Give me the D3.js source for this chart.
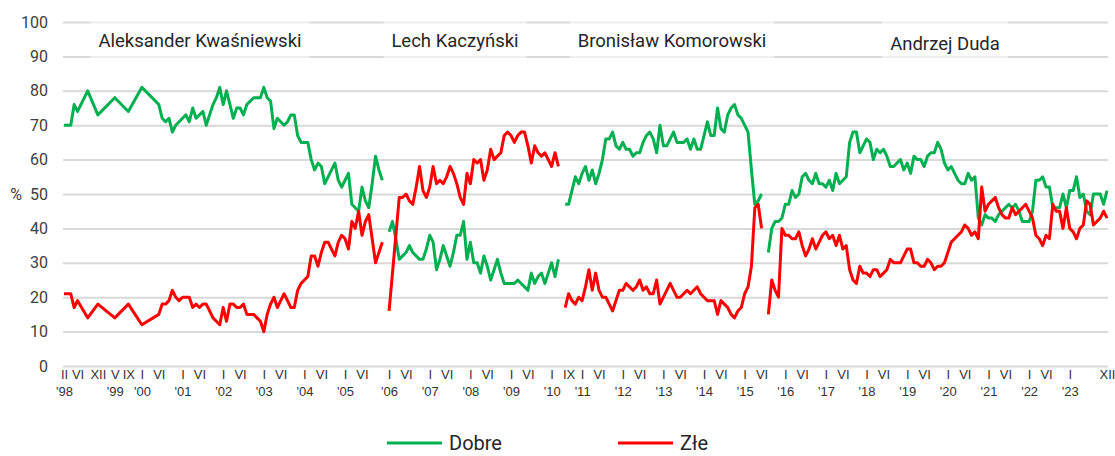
<!DOCTYPE html>
<html lang="pl">
<head>
<meta charset="utf-8">
<script src="https://cdn.jsdelivr.net/npm/d3@7"></script>
<style>
  html, body { margin: 0; padding: 0; background: #fff; }
  svg { display: block; }
</style>
</head>
<body>
<svg id="chart" width="1115" height="456"></svg>
<script>
// Presidents and the survey months covered by each term (first, last).
const presidents = ["Aleksander Kwaśniewski", "Lech Kaczyński", "Bronisław Komorowski", "Andrzej Duda"];
const termMonths = [["1998-02", "2005-12"], ["2006-01", "2010-03"], ["2010-08", "2015-06"], ["2015-08", "2023-12"]];

// Share of answers "dobrze" (good) and "źle" (bad), in %; null = no survey that month.
const kwasniewskiDobre = [
  70, null, 70, 76, 74, null, null, 80, null, null, 73, null, null, null, null, 78, null, null, null, 74,
  null, null, null, 81, null, null, null, null, 76, 72, 71, 72, 68, 70, 71, 72, 73, 71, 75, 72,
  73, 74, 70, 73, 76, 78, 81, 76, 80, 76, 72, 75, 75, 73, 76, 77, 78, 78, 78, 81,
  78, 77, 69, 72, 71, 70, 71, 73, 73, 67, 65, 65, 65, 60, 57, 59, 58, 53, 55, 57,
  59, 54, 52, 54, 56, 47, 46, 45, 52, 48, 46, 53, 61, 57, 54
];
const kwasniewskiZle = [
  21, null, 21, 17, 19, null, null, 14, null, null, 18, null, null, null, null, 14, null, null, null, 18,
  null, null, null, 12, null, null, null, null, 15, 18, 18, 19, 22, 20, 19, 20, 20, 20, 17, 18,
  17, 18, 18, 16, 14, 13, 12, 17, 13, 18, 18, 17, 17, 18, 15, 15, 15, 14, 13, 10,
  15, 18, 20, 17, 19, 21, 19, 17, 17, 22, 24, 25, 26, 32, 32, 29, 33, 36, 36, 34,
  32, 36, 38, 37, 34, 42, 40, 45, 38, 42, 44, 37, 30, 33, 36
];
const kaczynskiDobre = [
  39, 42, 37, 31, 32, 33, 35, 33, 32, 31, 31, 34, 38, 36, 28, 31, 35, 32, 29, 33,
  38, 38, 42, 31, 36, 30, 30, 27, 32, 29, 25, 28, 31, 27, 24, 24, 24, 24, 25, 24,
  23, 22, 27, 24, 26, 27, 24, 27, 30, 26, 31
];
const kaczynskiZle = [
  16, 27, 38, 49, 49, 50, 48, 47, 52, 58, 51, 49, 52, 58, 53, 54, 53, 55, 58, 56,
  53, 49, 47, 56, 53, 60, 59, 60, 54, 57, 63, 60, 61, 62, 67, 68, 67, 65, 67, 68,
  68, 64, 59, 64, 62, 61, 62, 60, 58, 62, 58
];
const komorowskiDobre = [
  47, 47, 51, 55, 53, 56, 58, 54, 57, 53, 56, 60, 66, 66, 68, 64, 63, 65, 63, 63,
  61, 62, 62, 65, 67, 68, 66, 62, 70, 64, 64, 66, 68, 65, 65, 65, 66, 63, 66, 63,
  63, 67, 71, 67, 67, 75, 69, 68, 73, 75, 76, 73, 72, 70, 68, 57, 47, 48, 50
];
const komorowskiZle = [
  17, 21, 19, 18, 20, 19, 23, 28, 22, 27, 22, 20, 20, 18, 16, 19, 22, 22, 24, 23,
  22, 23, 25, 22, 23, 21, 21, 25, 18, 20, 22, 24, 22, 20, 20, 21, 22, 21, 22, 23,
  21, 20, 19, 19, 19, 15, 19, 18, 17, 15, 14, 16, 17, 21, 23, 29, 46, 47, 40
];
const dudaDobre = [
  33, 40, 42, 42, 43, 47, 47, 51, 49, 50, 55, 56, 54, 53, 56, 53, 53, 52, 54, 51,
  56, 53, 54, 55, 65, 68, 68, 62, 64, 66, 65, 60, 63, 62, 63, 61, 58, 58, 59, 60,
  57, 59, 56, 61, 60, 60, 58, 61, 62, 62, 65, 63, 59, 57, 58, 56, 54, 53, 53, 56,
  54, 55, 43, 41, 44, 43, 43, 42, 44, 45, 46, 47, 46, 47, 45, 42, 42, 42, 45, 54,
  54, 55, 52, 52, 46, 46, 46, 50, 46, 51, 51, 55, 49, 50, 45, 44, 50, 50, 50, 47,
  51
];
const dudaZle = [
  15, 25, 22, 20, 40, 38, 38, 37, 37, 39, 35, 32, 34, 37, 34, 36, 38, 39, 37, 38,
  35, 38, 34, 35, 28, 25, 24, 29, 27, 27, 26, 28, 28, 26, 27, 28, 31, 30, 30, 30,
  32, 34, 34, 30, 30, 29, 29, 31, 30, 28, 29, 29, 30, 33, 36, 37, 38, 39, 41, 40,
  38, 39, 37, 52, 45, 47, 48, 49, 46, 44, 43, 43, 46, 44, 45, 46, 47, 45, 43, 38,
  37, 35, 38, 37, 47, 45, 45, 40, 46, 40, 39, 37, 40, 41, 48, 47, 41, 42, 43, 45,
  43
];
const dobreByTerm = [kwasniewskiDobre, kaczynskiDobre, komorowskiDobre, dudaDobre];
const zleByTerm = [kwasniewskiZle, kaczynskiZle, komorowskiZle, dudaZle];

// Axis labels: Roman month numerals and the year shown beneath them.
const monthTicks = [
  "1998-02", "1998-06", "1998-12", "1999-05", "1999-09", "2000-01", "2000-06",
  "2001-01", "2001-06", "2002-01", "2002-06", "2003-01", "2003-06", "2004-01", "2004-06",
  "2005-01", "2005-06", "2006-01", "2006-06", "2007-01", "2007-06", "2008-01", "2008-06",
  "2009-01", "2009-06", "2010-01", "2010-09", "2011-01", "2011-06", "2012-01", "2012-06",
  "2013-01", "2013-06", "2014-01", "2014-06", "2015-01", "2015-06", "2016-01", "2016-06",
  "2017-01", "2017-06", "2018-01", "2018-06", "2019-01", "2019-06", "2020-01", "2020-06",
  "2021-01", "2021-06", "2022-01", "2022-06", "2023-01", "2023-12"
];
const yearTicks = [
  "1998-02", "1999-05", "2000-01", "2001-01", "2002-01", "2003-01", "2004-01", "2005-01",
  "2006-01", "2007-01", "2008-01", "2009-01", "2010-01", "2011-01", "2012-01", "2013-01",
  "2014-01", "2015-01", "2016-01", "2017-01", "2018-01", "2019-01", "2020-01", "2021-01",
  "2022-01", "2023-01"
];
const romanMonths = ["I", "II", "III", "IV", "V", "VI", "VII", "VIII", "IX", "X", "XI", "XII"];
const yTicks = [0, 10, 20, 30, 40, 50, 60, 70, 80, 90, 100];
const seriesNames = ["Dobre", "Złe"];
const seriesColors = ["#00b050", "#ff0000"];

(function draw() {
  // ---- category slots: one per month, one empty slot between terms ----
  function monthKeys(from, to) {
    let [yy, mm] = from.split("-").map(Number);
    const [ty, tm] = to.split("-").map(Number);
    const keys = [];
    while (yy < ty || (yy === ty && mm <= tm)) {
      keys.push(`${yy}-${String(mm).padStart(2, "0")}`);
      mm++;
      if (mm > 12) { mm = 1; yy++; }
    }
    return keys;
  }
  const slotOf = new Map();
  const termKeys = termMonths.map(([a, b]) => monthKeys(a, b));
  let slot = 0;
  termKeys.forEach((keys, t) => {
    keys.forEach(k => slotOf.set(k, slot++));
    if (t < termKeys.length - 1) slot++;
  });
  const lastSlot = slot - 1;

  // ---- layout ----
  const svg = d3.select("#chart");
  const plotLeft = 63, plotRight = 1108, plotTop = 22, plotBottom = 366;
  const x = d3.scaleLinear().domain([0, lastSlot]).range([64, 1107]);
  const y = d3.scaleLinear().domain([0, 100]).range([plotBottom, plotTop]);
  const sans = "Roboto, 'Noto Sans', sans-serif";

  // Horizontal grid and value labels
  const yAxis = d3.axisLeft(y)
    .tickValues(yTicks)
    .tickSize(-(plotRight - plotLeft))
    .tickPadding(15)
    .tickFormat(d3.format("d"));
  const gy = svg.append("g").attr("transform", `translate(${plotLeft},0)`).call(yAxis);
  gy.select(".domain").remove();
  gy.selectAll(".tick line").attr("stroke", "#d9d9d9").attr("stroke-width", 2);
  gy.selectAll(".tick text")
    .attr("font-family", sans)
    .attr("font-size", 16)
    .attr("fill", "#404040");

  svg.append("text")
    .attr("x", 16).attr("y", y(50)).attr("dy", "0.35em")
    .attr("text-anchor", "middle")
    .attr("font-family", sans)
    .attr("font-size", 16).attr("fill", "#404040")
    .text("%");

  // Term name labels on translucent white panels
  const labelCenters = [200, 455, 672, 945];
  const labelBaselines = [47, 47, 47, 50];
  const labelG = svg.append("g")
    .attr("font-family", sans)
    .attr("font-size", 18.5)
    .attr("fill", "#262626");
  presidents.forEach((name, i) => {
    const t = labelG.append("text")
      .attr("x", labelCenters[i])
      .attr("y", labelBaselines[i])
      .attr("text-anchor", "middle")
      .text(name);
    const b = t.node().getBBox();
    labelG.insert("rect", "text")
      .attr("x", b.x - 8).attr("y", 15)
      .attr("width", b.width + 16).attr("height", 46)
      .attr("fill", "#fff").attr("fill-opacity", 0.55);
  });

  // Month / year labels under the plot
  const romanOf = key => romanMonths[+key.slice(5) - 1];
  const yearOf = key => "'" + key.slice(2, 4);
  const axisFont = "'Liberation Sans Narrow', 'Arial Narrow', 'Liberation Sans', Arial, sans-serif";

  const monthAxis = d3.axisBottom(x)
    .tickValues(monthTicks.map(k => slotOf.get(k)))
    .tickSize(0).tickPadding(0)
    .tickFormat((d, i) => romanOf(monthTicks[i]));
  const gm = svg.append("g").attr("transform", "translate(0,370)").call(monthAxis);
  gm.select(".domain").remove();
  gm.selectAll(".tick text")
    .attr("dy", "0.71em")
    .attr("font-family", axisFont).attr("font-size", 13).attr("fill", "#333");

  const yearAxis = d3.axisBottom(x)
    .tickValues(yearTicks.map(k => slotOf.get(k)))
    .tickSize(0).tickPadding(0)
    .tickFormat((d, i) => yearOf(yearTicks[i]));
  const gyr = svg.append("g").attr("transform", "translate(0,387)").call(yearAxis);
  gyr.select(".domain").remove();
  gyr.selectAll(".tick text")
    .attr("dy", "0.71em")
    .attr("font-family", axisFont).attr("font-size", 13).attr("fill", "#333");

  // Series lines, one path per term
  const line = d3.line()
    .x(d => x(d.slot))
    .y(d => y(d.value));
  [dobreByTerm, zleByTerm].forEach((byTerm, s) => {
    const g = svg.append("g").attr("class", "series-" + s);
    byTerm.forEach((values, t) => {
      const pts = termKeys[t]
        .map((k, i) => ({ slot: slotOf.get(k), value: values[i] }))
        .filter(d => d.value != null);
      g.append("path")
        .datum(pts)
        .attr("d", line)
        .attr("fill", "none")
        .attr("stroke", seriesColors[s])
        .attr("stroke-width", 3)
        .attr("stroke-linejoin", "round")
        .attr("stroke-linecap", "butt");
    });
  });

  // Legend
  const legend = svg.append("g")
    .attr("font-family", sans)
    .attr("font-size", 20)
    .attr("fill", "#262626");
  const legendX = [387, 618];
  seriesNames.forEach((name, i) => {
    legend.append("line")
      .attr("x1", legendX[i]).attr("x2", legendX[i] + 55)
      .attr("y1", 443).attr("y2", 443)
      .attr("stroke", seriesColors[i]).attr("stroke-width", 3);
    legend.append("text")
      .attr("x", legendX[i] + 62).attr("y", 443).attr("dy", "0.35em")
      .text(name);
  });
})();
</script>
</body>
</html>
